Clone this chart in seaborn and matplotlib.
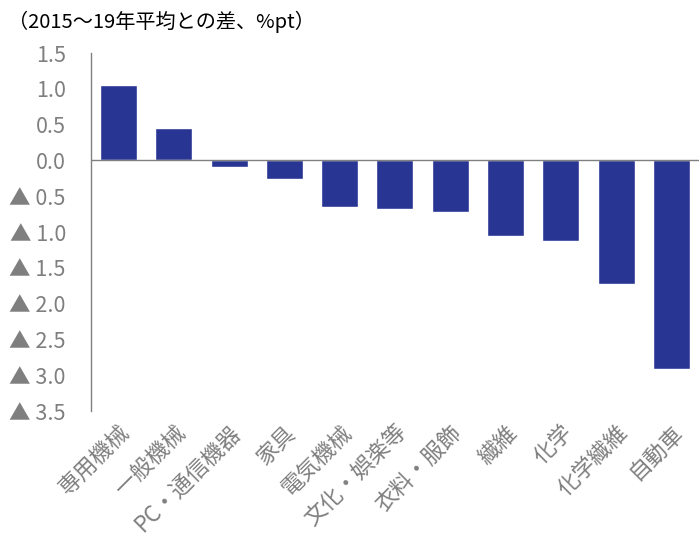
import numpy as np
import pandas as pd
import seaborn as sns
import matplotlib.pyplot as plt

# Data
categories = ['専用機械', '一般機械', 'PC・通信機器', '家具', '電気機械', '文化・娯楽等',
              '衣料・服飾', '繊維', '化学', '化学繊維', '自動車']
values = [1.06, 0.45, -0.09, -0.26, -0.65, -0.68, -0.72, -1.05, -1.12, -1.73, -2.91]
yticks = [1.5, 1.0, 0.5, 0.0, -0.5, -1.0, -1.5, -2.0, -2.5, -3.0, -3.5]

df = pd.DataFrame({'category': categories, 'value': values})

sns.set_style('white')
plt.rcParams['font.family'] = ['Noto Sans CJK JP', 'DejaVu Sans']

fig = plt.figure(figsize=(6.99, 5.41), dpi=100)
ax = fig.add_axes([0.130, 0.240, 0.870, 0.662])

sns.barplot(data=df, x='category', y='value', color='#283593', width=0.67,
            saturation=1, ax=ax)

ax.set_xlim(-0.5, 10.5)
ax.set_ylim(-3.5, 1.5)
ax.set_yticks(yticks)
ax.set_yticklabels([f'{v:.1f}' if v >= 0 else f'▲ {abs(v):.1f}' for v in yticks],
                   fontsize=15.5, color='#7f7f7f')
ax.set_xticks(range(len(categories)))
ax.set_xticklabels(categories, rotation=45, ha='right', rotation_mode='anchor',
                   fontsize=16, color='#7f7f7f')
ax.tick_params(axis='x', length=0, pad=7)
ax.tick_params(axis='y', length=0, pad=18)

ax.set_xlabel('')
ax.set_ylabel('')
for s in ['top', 'right', 'bottom']:
    ax.spines[s].set_visible(False)
ax.spines['left'].set_color('#808080')
ax.spines['left'].set_linewidth(1.0)
ax.axhline(0, color='#808080', linewidth=1.0, zorder=3)

fig.text(0.012, 0.960, '（2015〜19年平均との差、%pt）', fontsize=14.5, color='black',
         ha='left', va='center')

fig.savefig('out.png', dpi=100)
